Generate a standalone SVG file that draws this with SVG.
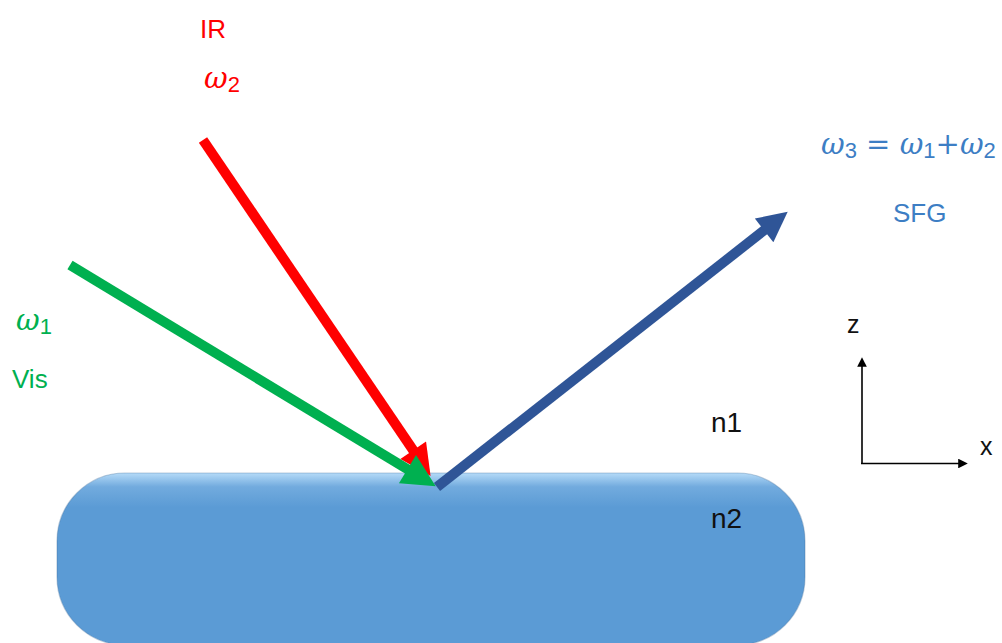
<svg xmlns="http://www.w3.org/2000/svg" width="1002" height="643" viewBox="0 0 1002 643">
<style>
.t{font-family:"Liberation Sans",Arial,sans-serif;font-size:26px}
.n{font-family:"Liberation Sans",Arial,sans-serif;font-size:28px;fill:#111}
.a{font-family:"Liberation Sans",Arial,sans-serif;font-size:25px;fill:#111}
.m{font-family:"DejaVu Serif","Liberation Serif",serif;font-size:29px;font-style:italic}
.s{font-family:"Liberation Sans",Arial,sans-serif;font-size:22px;font-style:normal}
.beam{stroke-width:10;fill:none;stroke-linecap:butt}
</style>
<defs>
<linearGradient id="slabg" x1="0" y1="0" x2="0" y2="1">
<stop offset="0" stop-color="#B5DBF8"/>
<stop offset="0.08" stop-color="#72ABDE"/>
<stop offset="0.2" stop-color="#5B9BD5"/>
<stop offset="1" stop-color="#5B9BD5"/>
</linearGradient>
<marker id="hr" viewBox="0 0 10 10" refX="5" refY="5" markerWidth="3.8" markerHeight="3.1" orient="auto"><path d="M0,0 L10,5 L0,10 z" fill="#FF0000"/></marker>
<marker id="hg" viewBox="0 0 10 10" refX="5" refY="5" markerWidth="3.8" markerHeight="3.3" orient="auto"><path d="M0,0 L10,5 L0,10 z" fill="#00B050"/></marker>
<marker id="hb" viewBox="0 0 10 10" refX="5" refY="5" markerWidth="3.6" markerHeight="3" orient="auto"><path d="M0,0 L10,5 L0,10 z" fill="#2F5597"/></marker>
<marker id="hk" viewBox="0 0 10 10" refX="5" refY="5" markerWidth="7" markerHeight="6" orient="auto"><path d="M0,0 L10,5 L0,10 z" fill="#000"/></marker>
</defs>
<rect width="1002" height="643" fill="#fff"/>
<g id="slab">
<rect x="57" y="473" width="748" height="172" rx="68" fill="url(#slabg)" stroke="#3E6E9C" stroke-opacity="0.35" stroke-width="1.2"/>
<text class="n" x="711" y="528">n2</text>
</g>
<g id="medium1"><text class="n" x="711" y="432">n1</text></g>
<g id="connectors">
<line class="beam" x1="203" y1="140" x2="421.9" y2="463.1" stroke="#FF0000" marker-end="url(#hr)"/>
<line class="beam" x1="70" y1="265" x2="421.6" y2="477.7" stroke="#00B050" marker-end="url(#hg)"/>
<line class="beam" x1="437" y1="487" x2="775.9" y2="221.1" stroke="#2F5597" marker-end="url(#hb)"/>
<line x1="862" y1="464" x2="862" y2="362" stroke="#000" stroke-width="1.6" marker-end="url(#hk)"/>
<line x1="861" y1="463.5" x2="963" y2="463.5" stroke="#000" stroke-width="1.6" marker-end="url(#hk)"/>
</g>
<g id="ir">
<text class="t" x="200" y="38" fill="#FF0000">IR</text>
<text class="m" x="204" y="88" fill="#FF0000">ω<tspan class="s" dy="4">2</tspan></text>
</g>
<g id="vis">
<text class="m" x="16" y="330" fill="#00B050">ω<tspan class="s" dy="4">1</tspan></text>
<text class="t" x="12" y="388" fill="#00B050">Vis</text>
</g>
<g id="sfg">
<text class="m" x="821" y="154" fill="#3D7EC4">ω<tspan class="s" dy="4">3</tspan><tspan dy="-4" font-style="normal"> = </tspan>ω<tspan class="s" dy="4">1</tspan><tspan dy="-4" font-style="normal">+</tspan>ω<tspan class="s" dy="4">2</tspan></text>
<text class="t" x="893" y="222" fill="#3D7EC4">SFG</text>
</g>
<g id="axes">
<text class="a" x="847" y="333">z</text>
<text class="a" x="980" y="455">x</text>
</g>
</svg>
